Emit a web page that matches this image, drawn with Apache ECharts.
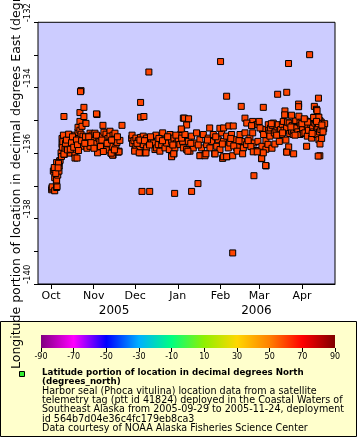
<!DOCTYPE html>
<html><head><meta charset="utf-8">
<script src="https://cdn.jsdelivr.net/npm/echarts@6/dist/echarts.min.js"></script>
<style>html,body{margin:0;padding:0;background:#fff}#c{width:360px;height:440px}</style>
</head><body><div id="c"></div>
<script>
// day offsets are days since 2005-10-01 00:00 UTC; second value is longitude (deg E)
const refDate = Date.UTC(2005, 9, 1);
const xMinDate = '2005-09-21T14:00:00Z';
const xMaxDate = '2006-04-25T00:00:00Z';

const earlyOct = [[0.5,-137.12],[0.7,-137.07],[0.9,-137.03],[2.7,-137.15],[4.1,-137.05],[4.4,-137.02],[1.7,-136.55],[2.4,-136.5],[2.7,-136.75],[3.9,-136.85],[4.1,-136.82],[4.3,-136.5],[4.9,-136.67],[5.8,-136.55],[6.0,-136.39],[6.3,-136.24],[6.6,-136.22],[4.1,-136.29],[2.4,-136.44],[5.5,-136.31],[3.5,-136.62],[5.2,-136.45],[7.3,-135.99],[7.6,-136.1]];

const octNov = [[8.0,-135.55],[8.0,-135.73],[8.2,-135.82],[9.4,-135.58],[10.2,-135.88],[10.9,-135.48],[11.6,-135.82],[12.3,-135.64],[13.1,-136.0],[13.1,-135.55],[13.8,-135.73],[14.5,-135.55],[15.2,-135.79],[16.0,-135.64],[17.4,-136.03],[17.4,-135.45],[17.4,-136.15],[18.1,-135.88],[18.9,-136.15],[19.6,-135.36],[19.6,-135.21],[20.3,-135.55],[21.0,-135.7],[21.0,-135.3],[21.0,-135.03],[21.0,-134.76],[21.8,-135.79],[21.8,-135.42],[22.5,-135.18],[23.2,-135.48],[23.9,-134.88],[23.9,-134.6],[25.4,-135.09],[9.6,-136.04],[9.4,-136.03],[26.1,-135.85],[26.8,-135.64],[28.3,-135.39],[28.3,-135.79],[29.7,-135.45],[30.5,-135.52],[30.5,-135.61],[31.9,-135.39],[32.6,-135.7],[33.4,-134.82],[34.1,-135.85],[34.8,-135.55],[35.5,-135.64],[36.3,-135.48],[37.7,-135.15],[37.7,-135.76],[38.4,-135.36],[39.2,-135.61],[39.9,-135.42],[39.9,-135.88],[41.3,-135.55],[42.1,-135.67],[42.8,-135.33],[42.8,-135.48],[43.5,-136.0],[44.2,-135.79],[45.0,-136.06],[45.0,-135.45],[45.7,-135.58],[46.4,-135.39],[47.1,-135.82],[47.9,-135.67],[48.6,-135.97],[49.3,-135.94],[50.0,-135.61],[33.8,-135.99],[49.3,-135.96],[44.7,-136.06],[40.1,-135.9],[43.7,-136.0],
  [8.6,-135.65],[9.0,-135.45],[10.5,-135.7],[11.2,-135.6],[12.0,-135.9],[12.8,-135.42],[14.0,-135.88],[14.9,-135.68],[15.6,-135.5],[16.5,-135.82],[18.5,-135.6],[19.2,-135.75],[20.0,-135.92],[22.2,-135.62],[24.5,-135.7],[25.0,-135.5],[27.4,-135.5],[29.0,-135.68],[31.2,-135.85],[33.0,-135.45],[35.9,-135.8],[36.9,-135.6],[38.0,-135.95],[40.7,-135.7],[44.0,-135.6],[46.0,-135.9],[48.2,-135.5]];

const decJan = [[58.5,-135.55],[58.8,-135.45],[59.2,-135.7],[60.2,-135.62],[60.9,-135.89],[61.6,-135.54],[61.6,-135.79],[63.3,-135.62],[64.0,-135.84],[65.0,-135.52],[65.0,-135.99],[66.9,-135.48],[66.9,-135.74],[68.4,-135.99],[69.4,-135.54],[69.4,-135.84],[70.6,-135.62],[73.0,-135.59],[74.2,-135.69],[75.4,-135.89],[76.1,-135.45],[76.6,-135.84],[77.8,-135.74],[79.0,-135.94],[80.3,-135.74],[81.0,-135.38],[82.7,-135.59],[82.7,-135.84],[83.9,-135.69],[85.8,-135.89],[86.3,-135.43],[87.5,-135.64],[87.5,-136.09],[89.2,-135.54],[89.2,-136.02],[89.9,-135.84],[91.2,-135.69],[92.3,-135.56],[93.5,-135.74],[94.1,-135.43],[94.8,-135.28],[95.5,-135.64],[96.0,-134.93],
  [62.4,-135.7],[64.5,-135.6],[67.8,-135.62],[71.5,-135.75],[72.2,-135.5],[78.3,-135.55],[80.9,-135.62],[84.6,-135.5],[88.4,-135.75],[90.6,-135.45]];

const janFeb = [[94.8,-135.54],[96.0,-135.84],[97.2,-135.43],[98.4,-135.89],[99.6,-135.64],[100.8,-135.94],[102.0,-135.48],[103.2,-135.84],[104.4,-135.69],[105.6,-135.38],[108.0,-135.59],[108.3,-136.07],[109.3,-135.84],[110.5,-135.43],[111.9,-136.02],[112.9,-135.74],[114.1,-135.54],[115.3,-135.84],[116.5,-135.64],[117.7,-135.43],[118.7,-136.02],[120.2,-135.79],[121.3,-135.59],[122.6,-135.89],[123.8,-135.38],[125.0,-135.64],[127.4,-135.48],[127.6,-136.11],[128.6,-135.84],[129.8,-135.69],[131.0,-135.43],[133.4,-135.59],[134.7,-135.84],[135.8,-135.79],[137.1,-135.43],[138.3,-135.64],[139.5,-135.84],[140.7,-135.38],[141.9,-135.74],[144.3,-135.54],[146.3,-135.38],[146.3,-135.03],[147.2,-135.69],[148.7,-135.92],[149.2,-135.13],
  [101.4,-135.7],[106.8,-135.75],[113.5,-135.6],[119.5,-135.5],[124.3,-135.72],[130.4,-135.55],[132.6,-135.78],[136.4,-135.62],[143.0,-135.62],[145.0,-135.8]];

const marApr = [[145.8,-135.16],[150.1,-135.64],[151.0,-135.03],[152.8,-136.17],[153.0,-135.79],[153.4,-135.28],[154.2,-135.43],[155.9,-135.62],[155.9,-135.88],[157.4,-135.73],[157.6,-135.13],[158.0,-135.3],[158.8,-135.38],[158.8,-135.48],[159.3,-135.23],[160.3,-135.85],[160.5,-135.15],[161.2,-135.08],[162.0,-135.38],[162.4,-135.72],[163.2,-135.33],[164.0,-135.2],[164.8,-135.13],[165.5,-135.35],[165.6,-135.64],[166.6,-135.28],[167.3,-135.43],[167.8,-135.12],[168.5,-135.03],[169.0,-135.3],[170.4,-135.6],[170.9,-135.23],[170.9,-135.96],[171.5,-135.05],[172.4,-135.81],[172.8,-135.08],[173.2,-135.4],[174.5,-135.33],[175.0,-135.15],[175.7,-135.43],[176.2,-135.3],[176.9,-135.03],[177.5,-135.0],[178.1,-135.23],[179.0,-135.35],[180.6,-135.08],[180.6,-135.43],[181.3,-135.15],[182.5,-135.28],[183.0,-135.4],[184.2,-134.98],[184.2,-135.38],[184.8,-135.1],[185.4,-135.79],[185.9,-135.18],[185.9,-135.48],[186.7,-135.3],[187.8,-135.03],[188.5,-135.12],[189.1,-135.54],[189.8,-135.23],[190.2,-135.35],[190.9,-134.9],[191.4,-135.08],[191.8,-134.98],[192.7,-135.28],[192.7,-135.43],[193.5,-135.2],[193.8,-134.9],[194.3,-135.59],[194.8,-135.35],[195.1,-135.01],[195.1,-135.72],[195.8,-135.28],[196.0,-135.05],[196.3,-135.13],[196.3,-135.55],[197.0,-135.18],[197.8,-135.25],[198.5,-135.1],
  [159.8,-135.1],[163.7,-135.45],[168.0,-135.38],[174.0,-135.2],[177.0,-135.45],[182.0,-135.1],[186.2,-135.05],[189.4,-135.4],[194.0,-135.1],[197.3,-135.35]];

const outliers = [[21.8,-134.09],[21.4,-134.12],[9.4,-134.88],[33.0,-134.8],[51.5,-135.15],[71.0,-133.52],[65.0,-134.45],[65.0,-134.9],[67.4,-134.88],[66.0,-137.17],[71.6,-137.17],[89.7,-137.23],[102.0,-137.17],[106.6,-136.93],[123.0,-133.2],[127.4,-134.26],[131.8,-139.05],[138.0,-134.57],[147.2,-136.69],[156.0,-136.39],[164.4,-134.2],[171.0,-134.14],[172.3,-133.26],[187.6,-132.99],[194.0,-134.32],[179.6,-134.5],[179.6,-134.58],[191.0,-134.57],[192.6,-134.66],[193.0,-134.7],[169.7,-134.71],[169.5,-134.83],[174.5,-134.84],[179.8,-134.87],[183.7,-134.95],[190.5,-134.91],[194.3,-134.9],[192.6,-135.03],[196.5,-135.14],[154.0,-134.6],[140.7,-134.93],[142.0,-135.08],[145.5,-135.16],[96.7,-134.93],[99.8,-134.95],[98.4,-135.14],[94.5,-135.26],[60.7,-135.94],[64.0,-135.99],[68.9,-135.99],[87.5,-136.11],[89.0,-136.02],[99.3,-135.94],[108.0,-136.08],[111.7,-136.08],[112.4,-136.02],[119.0,-136.02],[124.5,-136.16],[125.0,-136.11],[127.4,-136.11],[131.8,-136.08],[135.0,-135.94],[139.0,-136.02],[146.7,-135.96],[149.6,-135.96],[152.8,-136.16],[154.0,-135.99],[155.7,-136.38],[171.0,-135.97],[176.0,-136.02],[195.0,-136.08],[193.8,-136.09],[115.1,-135.23],[122.5,-135.24],[125.2,-135.23],[129.0,-135.17],[132.2,-135.17],[151.6,-135.23]];

const monthNames = ['Jan','Feb','Mar','Apr','May','Jun','Jul','Aug','Sep','Oct','Nov','Dec'];
const yearLabels = [
  { text: '2005', from: '2005-09-30T12:00:00Z', to: '2006-01-01T00:00:00Z' },
  { text: '2006', from: '2006-01-01T00:00:00Z', to: xMaxDate }
];
const colorbarMin = -90, colorbarMax = 90, colorbarStep = 20;
const paletteStops = ['#800080','#ff00ff','#0000ff','#00b0ff','#00ff80','#90f000','#ffd700','#ff8000','#ff0000','#800000'];
const yTitle = 'Longitude portion of location in decimal degrees East (degrees_east)';
const legendBold = ['Latitude portion of location in decimal degrees North', '(degrees_north)'];
const legendLines = [
  'Harbor seal (Phoca vitulina) location data from a satellite',
  'telemetry tag (ptt id 41824) deployed in the Coastal Waters of',
  'Southeast Alaska from 2005-09-29 to 2005-11-24, deployment',
  'id 564b7d04e36c4fc179eb8ca3',
  'Data courtesy of NOAA Alaska Fisheries Science Center'
];

const DAY = 86400000;
const FONT = 'DejaVu Sans';
const points = [].concat(earlyOct, octNov, decJan, janFeb, marApr, outliers)
  .map(p => [refDate + p[0] * DAY, p[1]]);

const chart = echarts.init(document.getElementById('c'), null, { renderer: 'canvas' });

const gradient = {
  type: 'linear', x: 0, y: 0, x2: 1, y2: 0,
  colorStops: paletteStops.map((c, i) => ({ offset: i / (paletteStops.length - 1), color: c }))
};

const graphics = [
  { id: 'legendBox', type: 'rect', z: 1, shape: { x: 0.5, y: 321.5, width: 356, height: 115 },
    style: { fill: '#ffffcc', stroke: '#000', lineWidth: 1 } },
  { id: 'legendIcon', type: 'rect', z: 5, shape: { x: 19.5, y: 371.5, width: 5, height: 5 },
    style: { fill: '#33ee33', stroke: '#000', lineWidth: 1 } },
  { id: 'yTitle', type: 'text', z: 20, x: 17, y: 369, rotation: Math.PI / 2,
    style: { text: yTitle, font: '12.5px "' + FONT + '"', fill: '#000', textAlign: 'left', textVerticalAlign: 'middle' } }
];
legendBold.forEach((t, i) => graphics.push({
  id: 'lb' + i, type: 'text', z: 5, x: 42, y: 373 + i * 9.2,
  style: { text: t, font: 'bold 8.7px "' + FONT + '"', fill: '#000', textAlign: 'left', textVerticalAlign: 'middle' }
}));
legendLines.forEach((t, i) => graphics.push({
  id: 'll' + i, type: 'text', z: 5, x: 42, y: 373 + (i + 2) * 9.2,
  style: { text: t, font: '9.6px "' + FONT + '"', fill: '#000', textAlign: 'left', textVerticalAlign: 'middle' }
}));

chart.setOption({
  animation: false,
  useUTC: true,
  grid: [
    { left: 38, top: 20, width: 297, height: 264, show: true, backgroundColor: '#ccccff', borderColor: '#000', borderWidth: 1, z: 2 },
    { left: 41, top: 335, width: 294, height: 13, show: true, backgroundColor: gradient, borderWidth: 0, z: 3 }
  ],
  xAxis: [
    { type: 'time', gridIndex: 0, min: xMinDate, max: xMaxDate, minInterval: 28 * DAY, maxInterval: 31 * DAY,
      splitLine: { show: false },
      axisLine: { lineStyle: { color: '#000', width: 1 } },
      axisTick: { show: true, length: 5, lineStyle: { color: '#000' } },
      minorTick: { show: false },
      axisLabel: { formatter: v => monthNames[new Date(v).getUTCMonth()], color: '#000', fontSize: 11, fontFamily: FONT, margin: 7, hideOverlap: false } },
    { type: 'value', gridIndex: 1, min: colorbarMin, max: colorbarMax, interval: colorbarStep, z: 6,
      axisLine: { show: false }, splitLine: { show: false },
      axisTick: { show: true, length: 4, lineStyle: { color: '#000' } },
      axisLabel: { color: '#000', fontSize: 8, fontFamily: FONT, margin: 5 } }
  ],
  yAxis: [
    { type: 'value', gridIndex: 0, min: -140, max: -132, interval: 2,
      axisLine: { show: true, lineStyle: { color: '#000' } },
      axisTick: { show: true, length: 4, lineStyle: { color: '#000' } },
      minorTick: { show: true, splitNumber: 2, length: 4, lineStyle: { color: '#000' } },
      splitLine: { show: false },
      axisLabel: { rotate: 90, align: 'left', color: '#000', fontSize: 8.5, fontFamily: FONT, margin: 6 } },
    { type: 'value', gridIndex: 1, show: false, min: 0, max: 1 }
  ],
  series: [{
    type: 'scatter', xAxisIndex: 0, yAxisIndex: 0, data: points, symbol: 'rect', symbolSize: 6, silent: true,
    itemStyle: { color: '#ff4400', borderColor: '#000', borderWidth: 1, opacity: 1 }
  }],
  graphic: graphics
});

const yearGraphics = yearLabels.map((yl, i) => {
  const a = chart.convertToPixel({ xAxisIndex: 0 }, new Date(yl.from).getTime());
  const b = chart.convertToPixel({ xAxisIndex: 0 }, new Date(yl.to).getTime());
  return { id: 'year' + i, type: 'text', z: 5, x: (a + b) / 2, y: 311,
    style: { text: yl.text, font: '12px "' + FONT + '"', fill: '#000', textAlign: 'center', textVerticalAlign: 'middle' } };
});
chart.setOption({ graphic: yearGraphics });
</script></body></html>
